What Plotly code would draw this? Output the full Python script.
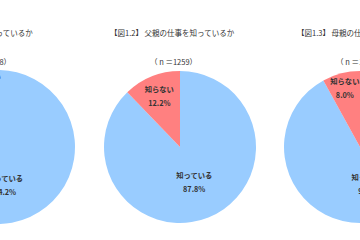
import plotly.graph_objects as go

labels = ["知っている", "知らない"]
left_values = [94.2, 5.8]
father_values = [87.8, 12.2]
mother_values = [92.0, 8.0]

titles = ["【図1.1】 親の仕事を知っているか", "【図1.2】 父親の仕事を知っているか", "【図1.3】 母親の仕事を知っているか"]
n_labels = ["（ n ＝1308）", "（ n ＝1259）", "（ n ＝1259）"]

colors = ["#99CCFF", "#FF8080"]
FONT = "Noto Sans CJK JP"

FW, FH = 720, 240
SHIFT = 179  # figure is shifted left so the side pies are cropped like the reference

def dom(cx_view, r=76):
    cx = cx_view + SHIFT
    cy_from_bottom = FH - 147
    return dict(x=[(cx - r) / FW, (cx + r) / FW],
                y=[(cy_from_bottom - r) / FH, (cy_from_bottom + r) / FH])

tmpl = ("<b><span style='font-size:7.3px'>%{label}</span></b><br>"
        "<b><span style='font-size:7.3px'>%{value:.1f}%</span></b>")

fig = go.Figure()
for vals, cx in [(left_values, -2), (father_values, 180), (mother_values, 360)]:
    fig.add_trace(go.Pie(
        labels=labels, values=vals, sort=False, direction="clockwise", rotation=0,
        marker=dict(colors=colors, line=dict(width=0)),
        texttemplate=tmpl, textposition="inside", insidetextorientation="horizontal",
        textfont=dict(family=FONT, size=10.5, color="#333333"),
        domain=dom(cx, 77 if cx < 0 else 76), showlegend=False, hoverinfo="skip",
    ))

ann = []
# titles
ann.append(dict(text=titles[0], x=(35 + SHIFT) / FW, xanchor="right", y=1 - 33 / FH))
ann.append(dict(text=titles[1], x=(172 + SHIFT) / FW, xanchor="center", y=1 - 33 / FH))
ann.append(dict(text=titles[2], x=(295 + SHIFT) / FW, xanchor="left", y=1 - 33 / FH))
# n labels
ann.append(dict(text=n_labels[0], x=(13 + SHIFT) / FW, xanchor="right", y=1 - 62 / FH))
ann.append(dict(text=n_labels[1], x=(173 + SHIFT) / FW, xanchor="center", y=1 - 62 / FH))
ann.append(dict(text=n_labels[2], x=(334 + SHIFT) / FW, xanchor="left", y=1 - 62 / FH))
for a in ann:
    a.update(xref="paper", yref="paper", yanchor="middle", showarrow=False,
             font=dict(family=FONT, size=7.5, color="#333333"))

fig.update_layout(
    width=FW, height=FH, margin=dict(l=0, r=0, t=0, b=0),
    paper_bgcolor="white", plot_bgcolor="white",
    annotations=ann,
    uniformtext=dict(minsize=10.5, mode="show"),
)

post = ("var d=document.getElementById('{plot_id}');"
        "d.style.position='absolute';d.style.left='-%dpx';d.style.top='0px';"
        "document.body.style.margin='0';document.body.style.overflow='hidden';"
        "document.documentElement.style.overflow='hidden';" % SHIFT)
fig.write_html("out.html", config={"displayModeBar": False, "responsive": False}, post_script=post)
